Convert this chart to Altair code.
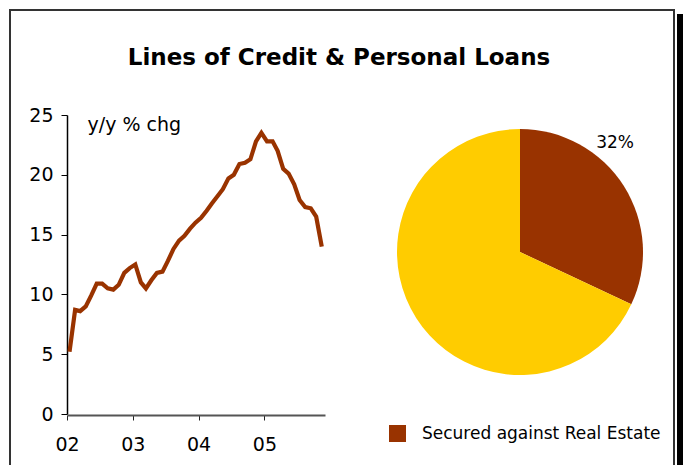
import altair as alt
import pandas as pd

# ---- data ----
line_values = [5.2, 8.7, 8.6, 9.0, 9.9, 10.9, 10.9, 10.5, 10.4, 10.8, 11.8, 12.2,
               12.5, 11.0, 10.5, 11.2, 11.8, 11.9, 12.8, 13.8, 14.5, 14.9, 15.5, 16.0,
               16.4, 17.0, 17.6, 18.2, 18.8, 19.7, 20.0, 20.9, 21.0, 21.3, 22.8, 23.5,
               22.8, 22.8, 22.0, 20.5, 20.1, 19.2, 17.9, 17.3, 17.2, 16.5, 14.0]
line_dates = [f"{2002 + i // 12}-{i % 12 + 1:02d}-15" for i in range(len(line_values))]
year_ticks = [2002, 2003, 2004, 2005]
y_ticks = [0, 5, 10, 15, 20, 25]

pie_labels = ["Secured against Real Estate", "Other"]
pie_shares = [0.32, 0.68]
pie_order = [0, 1]
pie_colors = ["#993300", "#FFCC00"]

FONT = "DejaVu Sans"

line_df = pd.DataFrame({"date": line_dates, "value": line_values})
pie_df = pd.DataFrame({"category": pie_labels, "share": pie_shares, "order": pie_order})

line = alt.Chart(line_df).mark_line(color="#993300", strokeWidth=4.2).encode(
    x=alt.X(
        "date:T",
        scale=alt.Scale(
            domain=[alt.DateTime(year=2002, month=1, date=1), alt.DateTime(year=2005, month=12, date=3)],
            range=[57, 315],
        ),
        axis=alt.Axis(
            title=None,
            values=[alt.DateTime(year=y, month=1, date=1) for y in year_ticks],
            format="%y",
            grid=False,
            offset=-51,
            domainColor="#555555",
            domainWidth=2,
            tickColor="#222222",
            tickSize=5,
            labelFlush=False,
            labelFont=FONT,
            labelFontSize=19,
            labelColor="#000000",
            labelPadding=15,
        ),
    ),
    y=alt.Y(
        "value:Q",
        scale=alt.Scale(domain=[0, 25], range=[404, 105]),
        axis=alt.Axis(
            title="y/y % chg",
            titleAngle=0,
            titleAlign="left",
            titleBaseline="middle",
            titleX=20,
            titleY=114,
            titleFont=FONT,
            titleFontSize=19,
            titleFontWeight="normal",
            titleColor="#000000",
            values=y_ticks,
            grid=False,
            offset=-57,
            domainColor="#000000",
            domainWidth=1.5,
            tickColor="#000000",
            tickSize=6,
            labelFlush=False,
            labelFont=FONT,
            labelFontSize=19,
            labelColor="#000000",
            labelPadding=8,
        ),
    ),
)

pie = alt.Chart(pie_df).mark_arc(outerRadius=123).encode(
    theta=alt.Theta("share:Q", stack=True),
    order=alt.Order("order:Q"),
    color=alt.Color(
        "category:N",
        scale=alt.Scale(domain=pie_labels, range=pie_colors),
        legend=alt.Legend(
            title=None,
            values=[pie_labels[0]],
            orient="none",
            legendX=379,
            legendY=415,
            symbolType="square",
            symbolSize=289,
            symbolStrokeWidth=0,
            labelFont=FONT,
            labelFontSize=17,
            labelColor="#000000",
            labelOffset=16,
            labelLimit=0,
            padding=0,
        ),
    ),
    x=alt.value(510),
    y=alt.value(242),
)

pie_label = alt.Chart(pie_df).transform_calculate(
    label="datum.order == 0 ? format(datum.share, '.0%') : ''"
).mark_text(radius=145, thetaOffset=-0.29, font=FONT, fontSize=17, color="#000000").encode(
    theta=alt.Theta("share:Q", stack=True),
    order=alt.Order("order:Q"),
    text="label:N",
    x=alt.value(510),
    y=alt.value(242),
)

shadow = alt.Chart(pd.DataFrame({"s": [0]})).mark_rect(color="#000000").encode(
    x=alt.value(667), x2=alt.value(673), y=alt.value(4), y2=alt.value(470)
)

chart = alt.layer(line, pie, pie_label, shadow).properties(
    width=664,
    height=456,
    background="white",
    autosize=alt.AutoSizeParams(type="none"),
    padding={"left": 10, "top": 10, "right": 12, "bottom": 0},
    title=alt.TitleParams(
        "Lines of Credit & Personal Loans",
        font=FONT,
        fontSize=23,
        fontWeight="bold",
        color="#000000",
        anchor="middle",
        baseline="middle",
        dx=-3,
        dy=75,
    ),
).configure_view(stroke="#333333", strokeWidth=2)

chart.save("out.html", embed_options={"renderer": "svg", "actions": False})
